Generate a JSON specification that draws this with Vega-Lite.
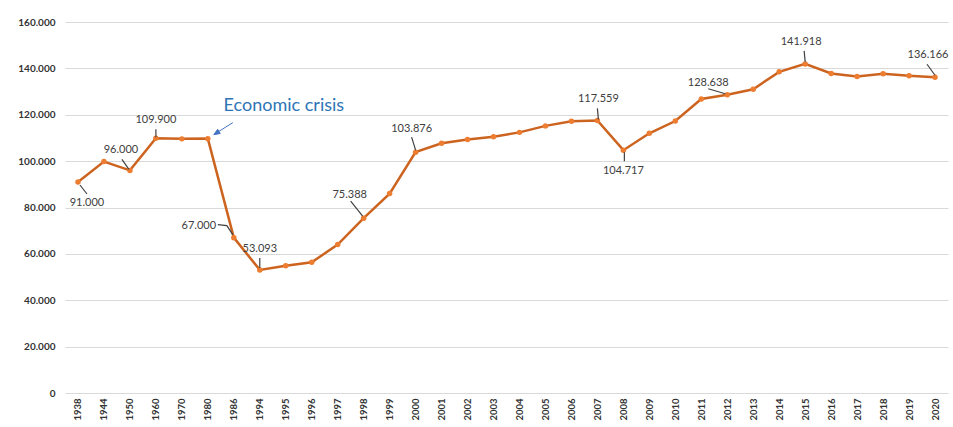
{
  "$schema": "https://vega.github.io/schema/vega-lite/v6.json",
  "width": 883,
  "height": 371,
  "autosize": {"type": "none"},
  "padding": {"left": 65, "top": 22, "right": 5, "bottom": 34},
  "background": "white",
  "config": {
    "locale": {"number": {"decimal": ",", "thousands": ".", "grouping": [3], "currency": ["", " €"]}},
    "view": {"stroke": null},
    "font": "Lato"
  },
  "data": {"values": [
    {"year": "1938", "value": 91000},
    {"year": "1944", "value": 99800},
    {"year": "1950", "value": 96000},
    {"year": "1960", "value": 109900},
    {"year": "1970", "value": 109600},
    {"year": "1980", "value": 109700},
    {"year": "1986", "value": 67000},
    {"year": "1994", "value": 53093},
    {"year": "1995", "value": 54900},
    {"year": "1996", "value": 56400},
    {"year": "1997", "value": 64000},
    {"year": "1998", "value": 75388},
    {"year": "1999", "value": 86000},
    {"year": "2000", "value": 103876},
    {"year": "2001", "value": 107700},
    {"year": "2002", "value": 109300},
    {"year": "2003", "value": 110500},
    {"year": "2004", "value": 112400},
    {"year": "2005", "value": 115200},
    {"year": "2006", "value": 117200},
    {"year": "2007", "value": 117559},
    {"year": "2008", "value": 104717},
    {"year": "2009", "value": 112000},
    {"year": "2010", "value": 117300},
    {"year": "2011", "value": 126800},
    {"year": "2012", "value": 128638},
    {"year": "2013", "value": 131000},
    {"year": "2014", "value": 138500},
    {"year": "2015", "value": 141918},
    {"year": "2016", "value": 137800},
    {"year": "2017", "value": 136500},
    {"year": "2018", "value": 137700},
    {"year": "2019", "value": 136800},
    {"year": "2020", "value": 136166}
  ]},
  "encoding": {
    "x": {"field": "year", "type": "ordinal", "sort": null,
      "scale": {"paddingInner": 0, "paddingOuter": 0},
      "axis": {"title": null, "labelAngle": -90, "labelAlign": "right", "labelBaseline": "middle",
        "labelFontWeight": "bold", "labelFontSize": 9.5, "labelColor": "#333333", "labelPadding": 5,
        "ticks": false, "domain": false, "grid": false}},
    "y": {"field": "value", "type": "quantitative",
      "scale": {"domain": [0, 160000], "nice": false},
      "axis": {"title": null, "values": [0, 20000, 40000, 60000, 80000, 100000, 120000, 140000, 160000],
        "format": ",.0f", "labelFontWeight": "bold", "labelFontSize": 10, "labelColor": "#333333",
        "labelPadding": 10, "ticks": false, "domain": false, "gridColor": "#d9d9d9", "gridWidth": 1.2}}
  },
  "layer": [
    {"mark": {"type": "line", "color": "#CC6420", "strokeWidth": 2.5}},
    {"mark": {"type": "point", "filled": true, "color": "#ED7D31", "size": 30, "opacity": 1}},
    {"transform": [{"filter": {"field": "year", "equal": "1938"}}],
     "layer": [
       {"mark": {"type": "text", "dx": 9, "dy": 21, "fontSize": 11, "color": "#404040"}, "encoding": {"text": {"field": "value", "format": ",.0f"}}},
       {"mark": {"type": "point", "shape": "M2,3L9,12", "size": 4, "filled": false, "stroke": "#404040", "strokeWidth": 1.2, "opacity": 1}}
     ]},
    {"transform": [{"filter": {"field": "year", "equal": "1950"}}],
     "layer": [
       {"mark": {"type": "text", "dx": -9, "dy": -20, "fontSize": 11, "color": "#404040"}, "encoding": {"text": {"field": "value", "format": ",.0f"}}},
       {"mark": {"type": "point", "shape": "M-8,-11L-1,-1", "size": 4, "filled": false, "stroke": "#404040", "strokeWidth": 1.2, "opacity": 1}}
     ]},
    {"transform": [{"filter": {"field": "year", "equal": "1960"}}],
     "layer": [
       {"mark": {"type": "text", "dx": 0, "dy": -18, "fontSize": 11, "color": "#404040"}, "encoding": {"text": {"field": "value", "format": ",.0f"}}},
       {"mark": {"type": "point", "shape": "M0,-9L0,-1", "size": 4, "filled": false, "stroke": "#404040", "strokeWidth": 1.2, "opacity": 1}}
     ]},
    {"transform": [{"filter": {"field": "year", "equal": "1980"}}],
     "layer": [
       {"mark": {"type": "text", "text": "Economic crisis", "dx": 76, "dy": -33, "fontSize": 18, "color": "#2E75B6"}},
       {"mark": {"type": "point", "shape": "M25,-16L9,-6M6,-4L12.4,-5.1L9.8,-9.3Z", "size": 4, "filled": true, "fill": "#4472C4", "stroke": "#4472C4", "strokeWidth": 1, "opacity": 1}}
     ]},
    {"transform": [{"filter": {"field": "year", "equal": "1986"}}],
     "layer": [
       {"mark": {"type": "text", "dx": -35, "dy": -12, "fontSize": 11, "color": "#404040"}, "encoding": {"text": {"field": "value", "format": ",.0f"}}},
       {"mark": {"type": "point", "shape": "M-16,-13L-7,-12L-1,-3", "size": 4, "filled": false, "stroke": "#404040", "strokeWidth": 1.2, "opacity": 1}}
     ]},
    {"transform": [{"filter": {"field": "year", "equal": "1994"}}],
     "layer": [
       {"mark": {"type": "text", "dx": 0, "dy": -21, "fontSize": 11, "color": "#404040"}, "encoding": {"text": {"field": "value", "format": ",.0f"}}},
       {"mark": {"type": "point", "shape": "M0,-12L0,-2", "size": 4, "filled": false, "stroke": "#404040", "strokeWidth": 1.2, "opacity": 1}}
     ]},
    {"transform": [{"filter": {"field": "year", "equal": "1998"}}],
     "layer": [
       {"mark": {"type": "text", "dx": -14, "dy": -23, "fontSize": 11, "color": "#404040"}, "encoding": {"text": {"field": "value", "format": ",.0f"}}},
       {"mark": {"type": "point", "shape": "M-13,-17L-1,-2", "size": 4, "filled": false, "stroke": "#404040", "strokeWidth": 1.2, "opacity": 1}}
     ]},
    {"transform": [{"filter": {"field": "year", "equal": "2000"}}],
     "layer": [
       {"mark": {"type": "text", "dx": -4, "dy": -23, "fontSize": 11, "color": "#404040"}, "encoding": {"text": {"field": "value", "format": ",.0f"}}},
       {"mark": {"type": "point", "shape": "M-4,-15L0,-2", "size": 4, "filled": false, "stroke": "#404040", "strokeWidth": 1.2, "opacity": 1}}
     ]},
    {"transform": [{"filter": {"field": "year", "equal": "2007"}}],
     "layer": [
       {"mark": {"type": "text", "dx": 1, "dy": -21, "fontSize": 11, "color": "#404040"}, "encoding": {"text": {"field": "value", "format": ",.0f"}}},
       {"mark": {"type": "point", "shape": "M0,-12L1,-1", "size": 4, "filled": false, "stroke": "#404040", "strokeWidth": 1.2, "opacity": 1}}
     ]},
    {"transform": [{"filter": {"field": "year", "equal": "2008"}}],
     "layer": [
       {"mark": {"type": "text", "dx": 0, "dy": 21, "fontSize": 11, "color": "#404040"}, "encoding": {"text": {"field": "value", "format": ",.0f"}}},
       {"mark": {"type": "point", "shape": "M1,2L1,11", "size": 4, "filled": false, "stroke": "#404040", "strokeWidth": 1.2, "opacity": 1}}
     ]},
    {"transform": [{"filter": {"field": "year", "equal": "2012"}}],
     "layer": [
       {"mark": {"type": "text", "dx": -19, "dy": -12, "fontSize": 11, "color": "#404040"}, "encoding": {"text": {"field": "value", "format": ",.0f"}}},
       {"mark": {"type": "point", "shape": "M-19,-6L-2,-1", "size": 4, "filled": false, "stroke": "#404040", "strokeWidth": 1.2, "opacity": 1}}
     ]},
    {"transform": [{"filter": {"field": "year", "equal": "2015"}}],
     "layer": [
       {"mark": {"type": "text", "dx": -4, "dy": -22, "fontSize": 11, "color": "#404040"}, "encoding": {"text": {"field": "value", "format": ",.0f"}}},
       {"mark": {"type": "point", "shape": "M-1,-13L0,-2", "size": 4, "filled": false, "stroke": "#404040", "strokeWidth": 1.2, "opacity": 1}}
     ]},
    {"transform": [{"filter": {"field": "year", "equal": "2020"}}],
     "layer": [
       {"mark": {"type": "text", "dx": -7, "dy": -22, "fontSize": 11, "color": "#404040"}, "encoding": {"text": {"field": "value", "format": ",.0f"}}},
       {"mark": {"type": "point", "shape": "M-8,-13L0,-2", "size": 4, "filled": false, "stroke": "#404040", "strokeWidth": 1.2, "opacity": 1}}
     ]}
  ]
}
